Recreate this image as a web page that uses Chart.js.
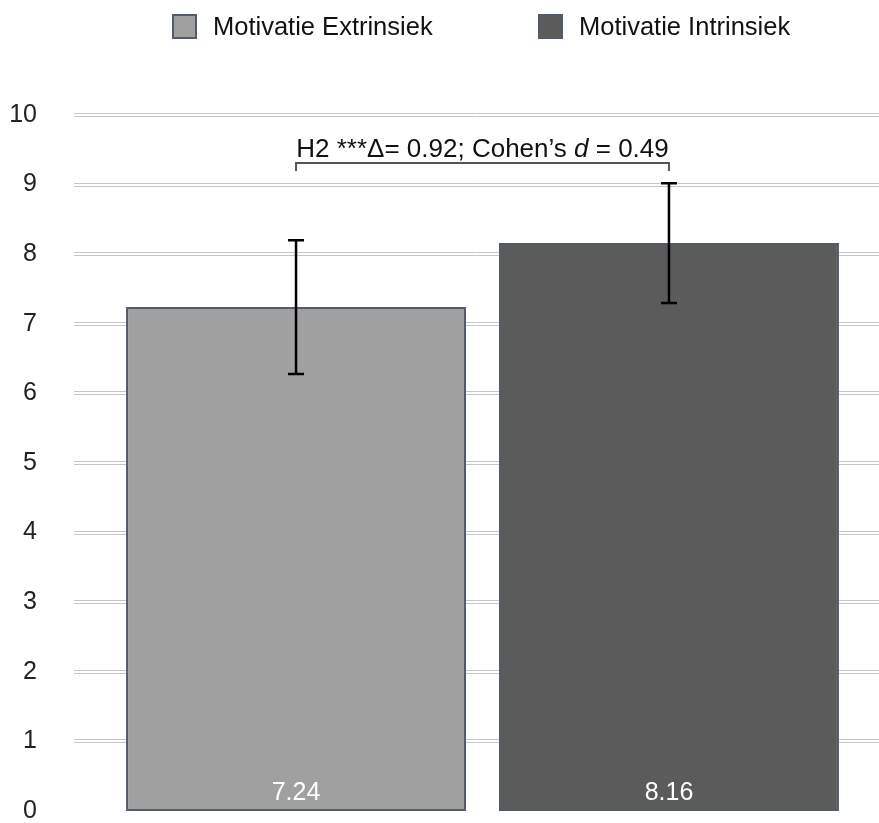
<!DOCTYPE html>
<html>
<head>
<meta charset="utf-8">
<script src="https://cdn.jsdelivr.net/npm/chart.js@4"></script>
<style>
  html, body { margin: 0; padding: 0; background: #fff; }
  #chart { display: block; }
</style>
</head>
<body>
<canvas id="chart" width="879" height="823"></canvas>
<script>
// Data
const seriesLabels = ['Motivatie Extrinsiek', 'Motivatie Intrinsiek'];
const means = [7.24, 8.16];
const sds = [0.96, 0.86];
const yTicks = [0, 1, 2, 3, 4, 5, 6, 7, 8, 9, 10];
const annotationText = ['H2 ***\u0394= 0.92; Cohen\u2019s ', 'd', ' = 0.49'];
const bracketLevel = 9.31;

const fills = ['#a0a0a0', '#5b5b5b'];
const edge = '#525b69';
const FONT = '"Liberation Sans", Arial, Helvetica, sans-serif';

// double grey gridlines running to the right edge
const gridPlugin = {
  id: 'gridLines',
  beforeDatasetsDraw(chart) {
    const ctx = chart.ctx;
    const y = chart.scales.y;
    ctx.save();
    ctx.strokeStyle = '#c6c6c6';
    ctx.lineWidth = 1;
    yTicks.forEach(v => {
      if (v === 0) return;
      const py = Math.round(y.getPixelForValue(v));
      ctx.beginPath();
      ctx.moveTo(74, py - 1.5); ctx.lineTo(chart.width, py - 1.5);
      ctx.moveTo(74, py + 1.5); ctx.lineTo(chart.width, py + 1.5);
      ctx.stroke();
    });
    ctx.restore();
  }
};

// error bars, value labels, bracket, legend
const extrasPlugin = {
  id: 'extras',
  afterDatasetsDraw(chart) {
    const ctx = chart.ctx;
    const y = chart.scales.y;
    const centers = [];
    ctx.save();

    chart.data.datasets.forEach((ds, i) => {
      const bar = chart.getDatasetMeta(i).data[0];
      centers.push(bar.x);
      // value label
      ctx.fillStyle = '#ffffff';
      ctx.font = '25px ' + FONT;
      ctx.textAlign = 'center';
      ctx.textBaseline = 'middle';
      ctx.fillText(means[i].toFixed(2), bar.x, y.getPixelForValue(0) - 18);
      // error bar
      const top = y.getPixelForValue(means[i] + sds[i]);
      const bot = y.getPixelForValue(means[i] - sds[i]);
      ctx.strokeStyle = '#000';
      ctx.lineWidth = 2.5;
      ctx.beginPath();
      ctx.moveTo(bar.x, top); ctx.lineTo(bar.x, bot);
      ctx.moveTo(bar.x - 8, top); ctx.lineTo(bar.x + 8, top);
      ctx.moveTo(bar.x - 8, bot); ctx.lineTo(bar.x + 8, bot);
      ctx.stroke();
    });

    // bracket
    const by = y.getPixelForValue(bracketLevel);
    ctx.strokeStyle = '#555';
    ctx.lineWidth = 2;
    ctx.beginPath();
    ctx.moveTo(centers[0], by + 8); ctx.lineTo(centers[0], by);
    ctx.lineTo(centers[1], by); ctx.lineTo(centers[1], by + 8);
    ctx.stroke();

    // annotation text with italic d
    const parts = annotationText.map((t, k) => ({ t, font: (k === 1 ? 'italic ' : '') + '26px ' + FONT }));
    let total = 0;
    parts.forEach(p => { ctx.font = p.font; p.w = ctx.measureText(p.t).width; total += p.w; });
    let x = (centers[0] + centers[1]) / 2 - total / 2;
    ctx.fillStyle = '#111';
    ctx.textAlign = 'left';
    ctx.textBaseline = 'alphabetic';
    parts.forEach(p => { ctx.font = p.font; ctx.fillText(p.t, x, by - 6); x += p.w; });

    // legend
    const legendX = [172, 538];
    ctx.font = '25.5px ' + FONT;
    ctx.textBaseline = 'middle';
    chart.data.datasets.forEach((ds, i) => {
      ctx.fillStyle = ds.backgroundColor;
      ctx.fillRect(legendX[i], 14, 25, 25);
      ctx.strokeStyle = edge;
      ctx.lineWidth = 2;
      ctx.strokeRect(legendX[i] + 1, 15, 23, 23);
      ctx.fillStyle = '#111';
      ctx.fillText(ds.label, legendX[i] + 41, 28);
    });

    ctx.restore();
  }
};

new Chart(document.getElementById('chart'), {
  type: 'bar',
  data: {
    labels: [''],
    datasets: seriesLabels.map((label, i) => ({
      label: label,
      data: [means[i]],
      backgroundColor: fills[i],
      borderColor: edge,
      borderWidth: 2,
      borderSkipped: false
    }))
  },
  options: {
    responsive: false,
    animation: false,
    layout: { padding: { left: 10, right: 6, top: 115, bottom: 12 } },
    datasets: { bar: { categoryPercentage: 0.955, barPercentage: 0.9115 } },
    plugins: {
      legend: { display: false },
      tooltip: { enabled: false }
    },
    scales: {
      x: { display: false },
      y: {
        min: 0,
        max: 10,
        afterFit(scale) {
          scale.width = 82;
          scale.paddingTop = 0;
          scale.paddingBottom = 0;
        },
        afterBuildTicks(scale) { scale.ticks = yTicks.map(v => ({ value: v })); },
        grid: { display: false, drawTicks: false },
        border: { display: false },
        ticks: {
          padding: 55,
          color: '#222',
          font: { family: FONT, size: 25 }
        }
      }
    }
  },
  plugins: [gridPlugin, extrasPlugin]
});
</script>
</body>
</html>
